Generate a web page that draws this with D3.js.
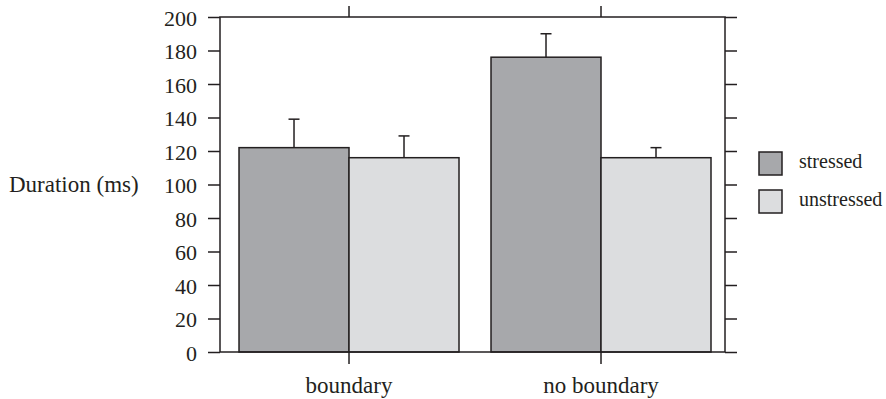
<!DOCTYPE html>
<html>
<head>
<meta charset="utf-8">
<script src="https://cdn.jsdelivr.net/npm/d3@7"></script>
<style>
  html, body { margin: 0; padding: 0; background: #fff; }
  svg { display: block; }
  text { font-family: "Liberation Serif", "Times New Roman", serif; fill: #231f20; }
</style>
</head>
<body>
<svg id="chart" width="886" height="399"></svg>
<script>
const categories = ["boundary", "no boundary"];
const seriesNames = ["stressed", "unstressed"];
const stressed = [122, 176];
const unstressed = [116, 116];
const stressedErr = [17, 14];
const unstressedErr = [13, 6];
const yTicks = [0, 20, 40, 60, 80, 100, 120, 140, 160, 180, 200];
const colors = ["#a7a8ab", "#dcdddf"];

(function () {
const svg = d3.select("#chart");
const pLeft = 220, pRight = 725, pTop = 17, pBottom = 352;
const ink = "#231f20";
const serif = '"Liberation Serif", "Times New Roman", serif';

const y = d3.scaleLinear().domain([0, 200]).range([pBottom, pTop]);
const x = d3.scaleBand().domain(categories).range([pLeft, pRight])
  .paddingInner(0.127).paddingOuter(0.0655).align(0.576);
const xs = d3.scaleBand().domain(seriesNames).range([0, x.bandwidth()]);

const values = [stressed, unstressed];
const errs = [stressedErr, unstressedErr];

// bars
const groups = svg.append("g").selectAll("g").data(categories).join("g")
  .attr("transform", d => `translate(${x(d)},0)`);
seriesNames.forEach((s, si) => {
  groups.append("rect")
    .attr("x", xs(s))
    .attr("y", (d, i) => y(values[si][i]))
    .attr("width", xs.bandwidth())
    .attr("height", (d, i) => y(0) - y(values[si][i]))
    .attr("fill", colors[si])
    .attr("stroke", ink)
    .attr("stroke-width", 1.5);
  groups.append("line")
    .attr("x1", xs(s) + xs.bandwidth() / 2)
    .attr("x2", xs(s) + xs.bandwidth() / 2)
    .attr("y1", (d, i) => y(values[si][i]))
    .attr("y2", (d, i) => y(values[si][i] + errs[si][i]))
    .attr("stroke", ink).attr("stroke-width", 1.5);
  groups.append("line")
    .attr("x1", xs(s) + xs.bandwidth() / 2 - 5.5)
    .attr("x2", xs(s) + xs.bandwidth() / 2 + 5.5)
    .attr("y1", (d, i) => y(values[si][i] + errs[si][i]))
    .attr("y2", (d, i) => y(values[si][i] + errs[si][i]))
    .attr("stroke", ink).attr("stroke-width", 1.5);
});

// frame
svg.append("rect")
  .attr("x", pLeft).attr("y", pTop).attr("width", pRight - pLeft).attr("height", pBottom - pTop)
  .attr("fill", "none").attr("stroke", ink).attr("stroke-width", 1.5);

// left axis
const yAxisL = svg.append("g").attr("transform", `translate(${pLeft},0)`)
  .call(d3.axisLeft(y).tickValues(yTicks).tickSize(12).tickSizeOuter(0).tickPadding(11));
yAxisL.attr("font-family", null).attr("font-size", null);
yAxisL.select(".domain").remove();
yAxisL.selectAll("line").attr("stroke", ink).attr("stroke-width", 1.5);
yAxisL.selectAll("text").style("font-size", "22px").style("font-family", serif)
  .attr("fill", ink).attr("dy", "0.38em");

// right axis
const yAxisR = svg.append("g").attr("transform", `translate(${pRight},0)`)
  .call(d3.axisRight(y).tickValues(yTicks).tickSize(12).tickSizeOuter(0).tickFormat(""));
yAxisR.select(".domain").remove();
yAxisR.selectAll("line").attr("stroke", ink).attr("stroke-width", 1.5);

// bottom axis
const xAxisB = svg.append("g").attr("transform", `translate(0,${pBottom})`)
  .call(d3.axisBottom(x).tickSize(12).tickSizeOuter(0).tickPadding(13));
xAxisB.attr("font-family", null).attr("font-size", null);
xAxisB.select(".domain").remove();
xAxisB.selectAll("line").attr("stroke", ink).attr("stroke-width", 1.5);
xAxisB.selectAll("text").style("font-size", "23px").style("font-family", serif).attr("fill", ink);

// top axis
const xAxisT = svg.append("g").attr("transform", `translate(0,${pTop})`)
  .call(d3.axisTop(x).tickSize(11).tickSizeOuter(0).tickFormat(""));
xAxisT.select(".domain").remove();
xAxisT.selectAll("line").attr("stroke", ink).attr("stroke-width", 1.5);

// y title
svg.append("text").attr("x", 9).attr("y", 192)
  .style("font-size", "23px").style("font-family", serif).text("Duration (ms)");

// legend
const legend = svg.append("g");
seriesNames.forEach((s, i) => {
  const ly = 152 + i * 38;
  legend.append("rect").attr("x", 759).attr("y", ly).attr("width", 23).attr("height", 23)
    .attr("fill", colors[i]).attr("stroke", ink).attr("stroke-width", 1.5);
  legend.append("text").attr("x", 799).attr("y", ly + 16)
    .style("font-size", "20px").style("font-family", serif).text(s);
});
})();
</script>
</body>
</html>
